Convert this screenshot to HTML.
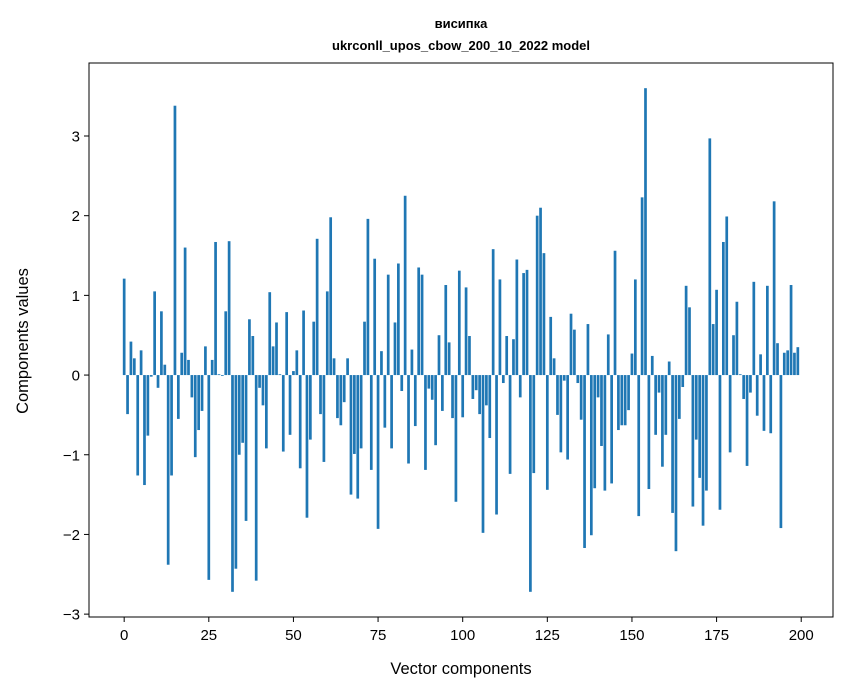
<!DOCTYPE html>
<html><head><meta charset="utf-8">
<style>
body{margin:0;background:#fff;}
svg{display:block;font-family:"Liberation Sans","DejaVu Sans",sans-serif;}
</style></head>
<body>
<svg id="chart" width="847" height="696" viewBox="0 0 847 696" xmlns="http://www.w3.org/2000/svg">
<rect width="847" height="696" fill="#fff"/>
<text x="461" y="28" font-size="13" font-weight="bold" text-anchor="middle">висипка</text>
<text x="461" y="50" font-size="13" font-weight="bold" text-anchor="middle">ukrconll_upos_cbow_200_10_2022 model</text>
<g id="bars"></g>
<g id="axes"></g>
<rect x="89" y="63" width="744" height="554" fill="none" stroke="#000" stroke-width="1"/>
<text x="461" y="674" font-size="16.5" text-anchor="middle">Vector components</text>
<text x="0" y="0" font-size="16.5" text-anchor="middle" transform="translate(28,341) rotate(-90)">Components values</text>
</svg>
<script>
const values = [
1.21,-0.49,0.42,0.21,-1.26,0.31,-1.38,-0.76,-0.02,1.05,
-0.16,0.80,0.13,-2.38,-1.26,3.38,-0.55,0.28,1.60,0.19,
-0.28,-1.03,-0.69,-0.45,0.36,-2.57,0.19,1.67,0.01,-0.01,
0.80,1.68,-2.72,-2.43,-1.00,-0.85,-1.83,0.70,0.49,-2.58,
-0.16,-0.38,-0.92,1.04,0.36,0.66,0.01,-0.96,0.79,-0.75,
0.05,0.31,-1.17,0.81,-1.79,-0.81,0.67,1.71,-0.49,-1.09,
1.05,1.98,0.21,-0.54,-0.63,-0.34,0.21,-1.50,-0.99,-1.55,
-0.92,0.67,1.96,-1.19,1.46,-1.93,0.30,-0.66,1.26,-0.92,
0.66,1.40,-0.20,2.25,-1.11,0.32,-0.64,1.35,1.26,-1.19,
-0.17,-0.31,-0.88,0.50,-0.45,1.13,0.41,-0.54,-1.59,1.31,
-0.53,1.10,0.49,-0.30,-0.19,-0.49,-1.98,-0.38,-0.79,1.58,
-1.75,1.20,-0.10,0.49,-1.24,0.45,1.45,-0.28,1.28,1.32,
-2.72,-1.23,2.00,2.10,1.53,-1.44,0.73,0.21,-0.50,-0.97,
-0.07,-1.06,0.77,0.57,-0.10,-0.56,-2.17,0.64,-2.01,-1.42,
-0.28,-0.89,-1.45,0.51,-1.36,1.56,-0.69,-0.63,-0.63,-0.44,
0.27,1.20,-1.77,2.23,3.60,-1.43,0.24,-0.75,-0.22,-1.15,
-0.75,0.17,-1.73,-2.21,-0.55,-0.15,1.12,0.85,-1.65,-0.81,
-1.29,-1.89,-1.45,2.97,0.64,1.07,-1.69,1.67,1.99,-0.97,
0.50,0.92,0.01,-0.30,-1.14,-0.22,1.17,-0.51,0.26,-0.70,
1.12,-0.73,2.18,0.40,-1.92,0.28,0.31,1.13,0.28,0.35
];
const xTicks = [0,25,50,75,100,125,150,175,200];
const yTicks = [-3,-2,-1,0,1,2,3];

const L=89,R=833,T=63,B=617,NS="http://www.w3.org/2000/svg";
const n=values.length, bw=0.8;
const xmin0=-bw/2, xmax0=n-1+bw/2, xm=(xmax0-xmin0)*0.05;
const xMin=xmin0-xm, xMax=xmax0+xm;
const vmin=Math.min(0,...values), vmax=Math.max(0,...values), ym=(vmax-vmin)*0.05;
const yMin=vmin-ym, yMax=vmax+ym;
function xs(v){return L+(v-xMin)/(xMax-xMin)*(R-L);}
function ys(v){return B-(v-yMin)/(yMax-yMin)*(B-T);}
const bars=document.getElementById('bars');
values.forEach((v,i)=>{
  const r=document.createElementNS(NS,'rect');
  const x0=xs(i-bw/2), x1=xs(i+bw/2), y0=ys(Math.max(v,0)), y1=ys(Math.min(v,0));
  r.setAttribute('x',x0);r.setAttribute('width',x1-x0);
  r.setAttribute('y',y0);r.setAttribute('height',Math.max(y1-y0,0.3));
  r.setAttribute('fill','#1f77b4');
  
  
  bars.appendChild(r);
});
const axes=document.getElementById('axes');
xTicks.forEach(t=>{
  const x=xs(t);
  const l=document.createElementNS(NS,'line');
  l.setAttribute('x1',x);l.setAttribute('x2',x);l.setAttribute('y1',B);l.setAttribute('y2',B+5);l.setAttribute('stroke','#000');
  
  
  axes.appendChild(l);
  const tx=document.createElementNS(NS,'text');
  tx.setAttribute('x',x);tx.setAttribute('y',B+23);tx.setAttribute('font-size','15');tx.setAttribute('text-anchor','middle');
  tx.textContent=t;
  
  
  axes.appendChild(tx);
});
yTicks.forEach(t=>{
  const y=ys(t);
  const l=document.createElementNS(NS,'line');
  l.setAttribute('x1',L-5);l.setAttribute('x2',L);l.setAttribute('y1',y);l.setAttribute('y2',y);l.setAttribute('stroke','#000');
  
  
  axes.appendChild(l);
  const tx=document.createElementNS(NS,'text');
  tx.setAttribute('x',L-9);tx.setAttribute('y',y+5.5);tx.setAttribute('font-size','15');tx.setAttribute('text-anchor','end');
  tx.textContent=t<0?'\u2212'+Math.abs(t):String(t);
  
  
  axes.appendChild(tx);
});
</script>
</body></html>
